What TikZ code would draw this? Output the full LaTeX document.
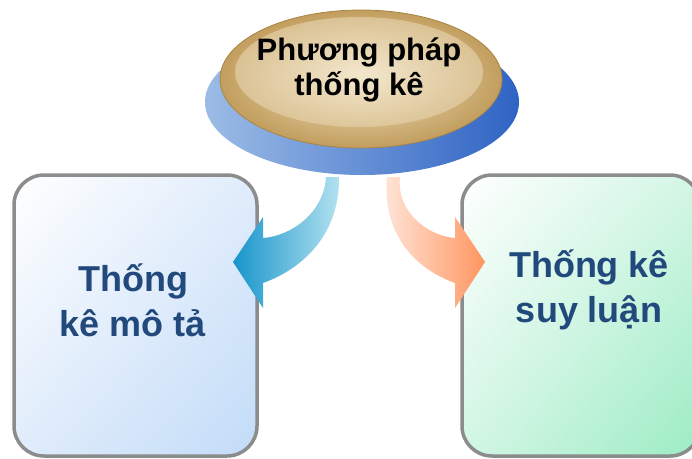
\documentclass[tikz,border=0pt]{standalone}
\usepackage{fontspec}
\setmainfont{Liberation Sans}
\usetikzlibrary{shadings}
\begin{document}
\begin{tikzpicture}[x=1pt,y=-1pt,
  panel/.style={draw=panelgray, line width=3.5pt, rounded corners=30pt, inner sep=0pt},
  paneltext/.style={text=navytext, font=\fontsize{36}{45}\selectfont\bfseries, align=center},
  toptext/.style={text=black, font=\fontsize{31}{35}\selectfont\bfseries, align=center}]
\definecolor{panelgray}{HTML}{8C8C8C}
\definecolor{navytext}{HTML}{22497C}
\definecolor{skyend}{HTML}{C2DCF8}
\definecolor{skymid}{HTML}{E0ECFB}
\definecolor{mintend}{HTML}{9CECC4}
\definecolor{mintmid}{HTML}{D2F6E4}
\definecolor{discblueA}{HTML}{9CBCE6}
\definecolor{discblueB}{HTML}{2F63C4}
\definecolor{tanrim}{HTML}{C29E5E}
\definecolor{tanin}{HTML}{F2E4C6}
\definecolor{tanedge}{HTML}{A98546}
\definecolor{cyanA}{HTML}{1895CB}
\definecolor{cyanB}{HTML}{B4E2F0}
\definecolor{peachA}{HTML}{FF9560}
\definecolor{peachB}{HTML}{FFE6DA}

\useasboundingbox (0,0) rectangle (692,458);
\clip (0,0) rectangle (692,458);
\fill[white] (0,0) rectangle (692,458);

% the two panels
\node[panel, shade, minimum width=243pt, minimum height=281pt,
  upper left=white, upper right=skymid, lower left=skymid, lower right=skyend]
  (desc) at (135.5,315.5) {};
\node[panel, shade, minimum width=238pt, minimum height=281pt,
  upper left=white, upper right=mintmid, lower left=mintmid, lower right=mintend]
  (infer) at (581,315.5) {};

% the disc: blue base and tan top
\shade[left color=discblueA, right color=discblueB] (362,102) ellipse [x radius=157, y radius=73];
\shade[inner color=tanin, outer color=tanrim] (361,79) ellipse [x radius=141, y radius=69];
\draw[tanedge, line width=0.8pt] (361,79) ellipse [x radius=141, y radius=69];
\shade[inner color=tanin!80!white, outer color=tanin!70!tanrim, opacity=0.7] (359,72) ellipse [x radius=124, y radius=55];
\node[toptext] (method) at (359,70) {Phương pháp\\thống kê};

% curved block arrows from the disc to the panels
\shade[left color=cyanA, right color=cyanB]
  (326,177) .. controls (324,212) and (292,236) .. (263,238)
  -- (263,217) -- (233,262) -- (263,308) -- (263,283)
  .. controls (305,268) and (340,232) .. (339,177) -- cycle;
\shade[left color=peachB, right color=peachA]
  (400,177) .. controls (396,212) and (428,236) .. (455,238)
  -- (455,217) -- (485,262) -- (455,308) -- (455,283)
  .. controls (413,268) and (382,232) .. (387,177) -- cycle;

% panel captions
\node[paneltext] (descl) at (133,300) {Thống\\kê mô tả};
\node[paneltext] (inferl) at (589,290) {Thống kê\\suy luận};
\end{tikzpicture}
\end{document}
